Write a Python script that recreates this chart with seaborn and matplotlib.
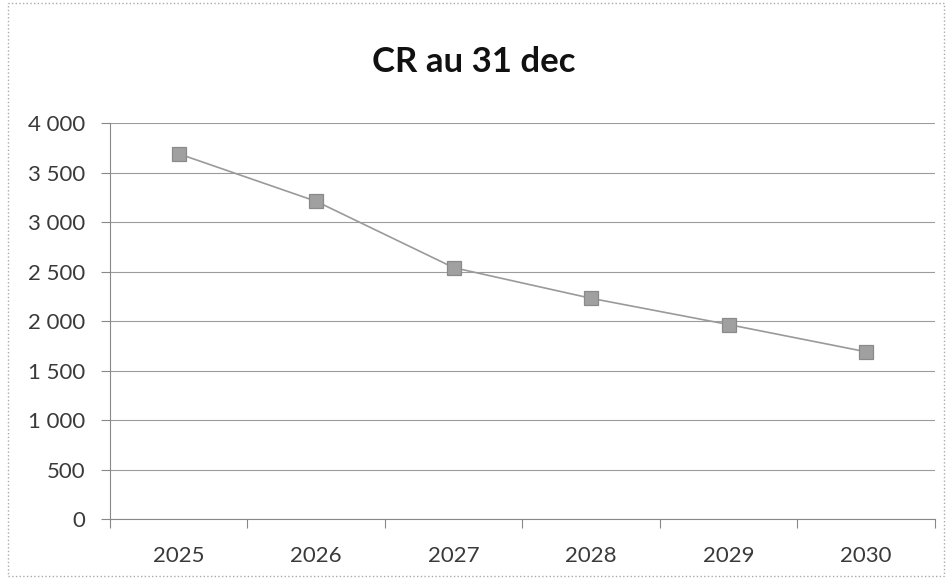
import pandas as pd
import seaborn as sns
from matplotlib import pyplot as plt
from matplotlib.patches import Rectangle
from matplotlib.ticker import FuncFormatter, FixedLocator

years = ['2025', '2026', '2027', '2028', '2029', '2030']
cr_values = [3690, 3210, 2540, 2230, 1965, 1690]
y_ticks = [0, 500, 1000, 1500, 2000, 2500, 3000, 3500, 4000]


def thousands(v, _pos):
    return f'{int(v):,}'.replace(',', ' ')


def plot_cr(df: pd.DataFrame):
    sns.set_theme(style="whitegrid")
    plt.rcParams['font.family'] = ['Lato', 'DejaVu Sans']
    fig = plt.figure(figsize=(9.48, 5.78), dpi=100)
    ax = fig.add_axes([0.116, 0.102, 0.870, 0.685])
    sns.pointplot(x="year", y="cr", data=df, ax=ax, color='#9a9a9a',
                  markers='s', markersize=10, linewidth=1.2, errorbar=None)
    for line in ax.lines:
        line.set_markeredgecolor('#8a8a8a')
        line.set_markerfacecolor('#a0a0a0')

    ax.set_ylim(0, 4000)
    ax.set_xlim(-0.5, 5.5)
    ax.set_yticks(y_ticks)
    ax.yaxis.set_major_formatter(FuncFormatter(thousands))
    ax.xaxis.set_minor_locator(FixedLocator([i - 0.5 for i in range(7)]))
    ax.tick_params(axis='x', which='major', length=0, pad=19.5, labelsize=16, colors='#3a3a3a')
    ax.tick_params(axis='x', which='minor', bottom=True, length=6.5, color='#888888', width=0.8)
    ax.tick_params(axis='y', which='major', left=True, length=6.5, color='#888888', width=0.8,
                   pad=11, labelsize=16, colors='#3a3a3a')
    ax.grid(axis='y', color='#9c9c9c', linewidth=0.8)
    ax.grid(axis='x', visible=False)
    for side in ['top', 'right']:
        ax.spines[side].set_visible(False)
    for side in ['left', 'bottom']:
        ax.spines[side].set_color('#888888')
        ax.spines[side].set_linewidth(0.8)
    ax.set(xlabel='', ylabel='')

    fig.text(0.5, 0.892, 'CR au 31 dec', ha='center', va='center',
             fontsize=25, fontweight='bold', color='#111111')
    fig.patches.append(Rectangle((0.008, 0.004), 0.988, 0.99, transform=fig.transFigure,
                                 fill=False, edgecolor='#aaaaaa', linestyle=':', linewidth=1))
    fig.savefig('out.png', dpi=100)


if __name__ == "__main__":
    df = pd.DataFrame({'year': years, 'cr': cr_values})
    plot_cr(df)
